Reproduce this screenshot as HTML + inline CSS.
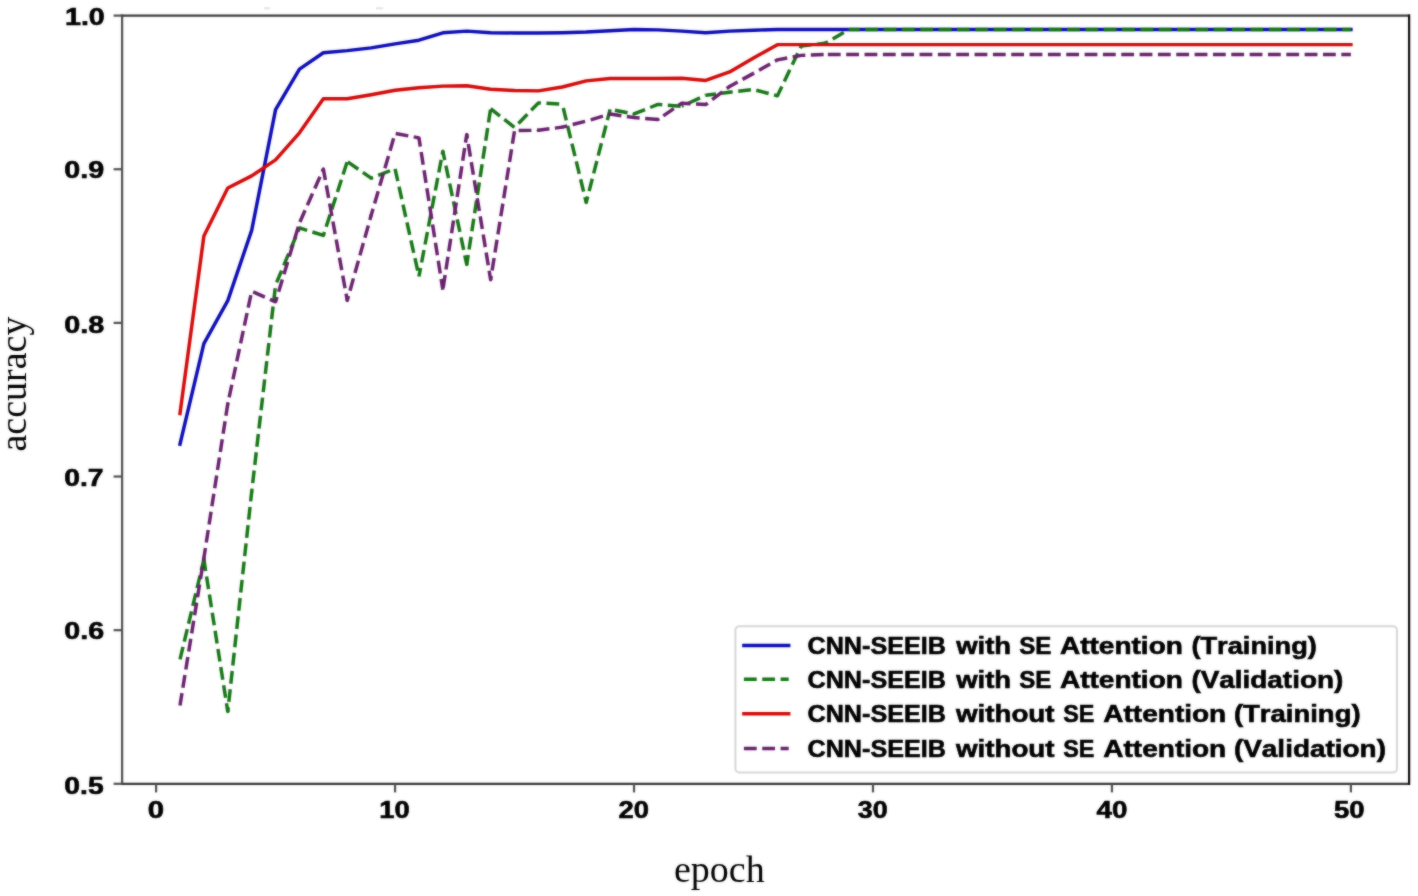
<!DOCTYPE html>
<html><head><meta charset="utf-8"><style>
html,body{margin:0;padding:0;background:#fff;}
body{width:1418px;height:896px;overflow:hidden;position:relative;}
svg{position:absolute;left:0;top:0;}
.tk{font-family:"Liberation Sans",sans-serif;font-weight:bold;font-size:23.5px;fill:#000;font-kerning:none;stroke:#000;stroke-width:0.6px;}
.lg{font-family:"Liberation Sans",sans-serif;font-weight:bold;font-size:23.5px;fill:#000;font-kerning:none;stroke:#000;stroke-width:0.6px;}
.ax{font-family:"Liberation Serif",serif;font-size:38px;fill:#000;}
svg.b{filter:blur(1px);} svg.s{opacity:0.5;}</style></head><body>
<svg class="b" width="1418" height="896" viewBox="0 0 1418 896">
<rect x="0" y="0" width="1418" height="896" fill="#fff"/>
<g>

<defs><clipPath id="pa"><rect x="122.1" y="15.6" width="1286.8000000000002" height="768.3"/></clipPath></defs>
<g clip-path="url(#pa)" fill="none" stroke-linejoin="round">
<polyline points="180.00,444.26 203.89,343.62 227.79,300.60 251.68,230.39 275.58,109.63 299.48,69.07 323.37,52.78 347.27,50.63 371.16,47.86 395.06,43.87 418.96,40.18 442.85,32.81 466.75,31.12 490.64,32.65 514.54,32.96 538.44,32.96 562.33,32.65 586.23,32.04 610.12,30.81 634.02,29.58 657.92,29.89 681.81,31.12 705.71,32.65 729.60,31.12 753.50,30.20 777.40,29.43 801.29,29.43 825.19,29.43 849.08,29.43 872.98,29.43 896.88,29.43 920.77,29.43 944.67,29.43 968.56,29.43 992.46,29.43 1016.36,29.43 1040.25,29.43 1064.15,29.43 1088.04,29.43 1111.94,29.43 1135.84,29.43 1159.73,29.43 1183.63,29.43 1207.52,29.43 1231.42,29.43 1255.32,29.43 1279.21,29.43 1303.11,29.43 1327.00,29.43 1350.90,29.43" stroke="#0c0cb5" stroke-width="3.46" stroke-linecap="square"/>
<polyline points="180.00,659.51 203.89,559.49" stroke="#177517" stroke-width="3.46" stroke-dasharray="12.802 5.536" stroke-dashoffset="18.235" stroke-linecap="butt"/><polyline points="203.89,559.49 227.79,711.59" stroke="#177517" stroke-width="3.46" stroke-dasharray="12.802 5.536" stroke-dashoffset="1.146" stroke-linecap="butt"/><circle cx="203.89" cy="559.49" r="1.73" fill="#177517"/><polyline points="227.79,711.59 251.68,491.88" stroke="#177517" stroke-width="3.46" stroke-dasharray="12.802 5.536" stroke-dashoffset="8.614" stroke-linecap="butt"/><circle cx="227.79" cy="711.59" r="1.73" fill="#177517"/><polyline points="251.68,491.88 275.58,284.93" stroke="#177517" stroke-width="3.46" stroke-dasharray="12.802 5.536" stroke-dashoffset="9.572" stroke-linecap="butt"/><circle cx="251.68" cy="491.88" r="1.73" fill="#177517"/><polyline points="275.58,284.93 299.48,227.93" stroke="#177517" stroke-width="3.46" stroke-dasharray="12.802 5.536" stroke-dashoffset="15.556" stroke-linecap="butt"/><polyline points="299.48,227.93 323.37,235.46" stroke="#177517" stroke-width="3.46" stroke-dasharray="12.802 5.536" stroke-dashoffset="4.794" stroke-linecap="butt"/><circle cx="299.48" cy="227.93" r="1.73" fill="#177517"/><polyline points="323.37,235.46 347.27,161.56" stroke="#177517" stroke-width="3.46" stroke-dasharray="12.802 5.536" stroke-dashoffset="9.250" stroke-linecap="butt"/><circle cx="323.37" cy="235.46" r="1.73" fill="#177517"/><polyline points="347.27,161.56 371.16,178.15" stroke="#177517" stroke-width="3.46" stroke-dasharray="12.802 5.536" stroke-dashoffset="17.702" stroke-linecap="butt"/><polyline points="371.16,178.15 395.06,168.78" stroke="#177517" stroke-width="3.46" stroke-dasharray="12.802 5.536" stroke-dashoffset="10.864" stroke-linecap="butt"/><circle cx="371.16" cy="178.15" r="1.73" fill="#177517"/><polyline points="395.06,168.78 418.96,276.33" stroke="#177517" stroke-width="3.46" stroke-dasharray="12.802 5.536" stroke-dashoffset="0.082" stroke-linecap="butt"/><polyline points="418.96,276.33 442.85,151.26" stroke="#177517" stroke-width="3.46" stroke-dasharray="12.802 5.536" stroke-dashoffset="4.299" stroke-linecap="butt"/><polyline points="442.85,151.26 466.75,264.50" stroke="#177517" stroke-width="3.46" stroke-dasharray="12.802 5.536" stroke-dashoffset="3.709" stroke-linecap="butt"/><circle cx="442.85" cy="151.26" r="1.73" fill="#177517"/><polyline points="466.75,264.50 490.64,108.71" stroke="#177517" stroke-width="3.46" stroke-dasharray="12.802 5.536" stroke-dashoffset="3.080" stroke-linecap="butt"/><circle cx="466.75" cy="264.50" r="1.73" fill="#177517"/><polyline points="490.64,108.71 514.54,127.45" stroke="#177517" stroke-width="3.46" stroke-dasharray="12.802 5.536" stroke-dashoffset="0.948" stroke-linecap="butt"/><polyline points="514.54,127.45 538.44,102.87 562.33,104.10" stroke="#177517" stroke-width="3.46" stroke-dasharray="12.802 5.536" stroke-dashoffset="12.729" stroke-linecap="butt"/><polyline points="562.33,104.10 586.23,202.43" stroke="#177517" stroke-width="3.46" stroke-dasharray="12.802 5.536" stroke-dashoffset="14.333" stroke-linecap="butt"/><polyline points="586.23,202.43 610.12,109.32" stroke="#177517" stroke-width="3.46" stroke-dasharray="12.802 5.536" stroke-dashoffset="6.720" stroke-linecap="butt"/><circle cx="586.23" cy="202.43" r="1.73" fill="#177517"/><polyline points="610.12,109.32 634.02,113.93" stroke="#177517" stroke-width="3.46" stroke-dasharray="12.802 5.536" stroke-dashoffset="13.396" stroke-linecap="butt"/><polyline points="634.02,113.93 657.92,104.40" stroke="#177517" stroke-width="3.46" stroke-dasharray="12.802 5.536" stroke-dashoffset="0.946" stroke-linecap="butt"/><circle cx="634.02" cy="113.93" r="1.73" fill="#177517"/><polyline points="657.92,104.40 681.81,106.25" stroke="#177517" stroke-width="3.46" stroke-dasharray="12.802 5.536" stroke-dashoffset="8.445" stroke-linecap="butt"/><circle cx="657.92" cy="104.40" r="1.73" fill="#177517"/><polyline points="681.81,106.25 705.71,95.19" stroke="#177517" stroke-width="3.46" stroke-dasharray="12.802 5.536" stroke-dashoffset="11.093" stroke-linecap="butt"/><polyline points="705.71,95.19 729.60,92.27" stroke="#177517" stroke-width="3.46" stroke-dasharray="12.802 5.536" stroke-dashoffset="2.485" stroke-linecap="butt"/><polyline points="729.60,92.27 753.50,89.50" stroke="#177517" stroke-width="3.46" stroke-dasharray="12.802 5.536" stroke-dashoffset="9.642" stroke-linecap="butt"/><circle cx="729.60" cy="92.27" r="1.73" fill="#177517"/><polyline points="753.50,89.50 777.40,95.80" stroke="#177517" stroke-width="3.46" stroke-dasharray="12.802 5.536" stroke-dashoffset="15.452" stroke-linecap="butt"/><polyline points="777.40,95.80 801.29,46.02 825.19,43.26" stroke="#177517" stroke-width="3.46" stroke-dasharray="12.802 5.536" stroke-dashoffset="2.368" stroke-linecap="butt"/><circle cx="777.40" cy="95.80" r="1.73" fill="#177517"/><polyline points="825.19,43.26 849.08,29.43" stroke="#177517" stroke-width="3.46" stroke-dasharray="12.802 5.536" stroke-dashoffset="9.668" stroke-linecap="butt"/><circle cx="825.19" cy="43.26" r="1.73" fill="#177517"/><polyline points="849.08,29.43 872.98,29.43 896.88,29.43 920.77,29.43 944.67,29.43 968.56,29.43 992.46,29.43 1016.36,29.43 1040.25,29.43 1064.15,29.43 1088.04,29.43 1111.94,29.43 1135.84,29.43 1159.73,29.43 1183.63,29.43 1207.52,29.43 1231.42,29.43 1255.32,29.43 1279.21,29.43 1303.11,29.43 1327.00,29.43 1350.90,29.43" stroke="#177517" stroke-width="3.46" stroke-dasharray="12.802 5.536" stroke-dashoffset="2.126" stroke-linecap="butt"/>
<polyline points="180.00,413.53 203.89,236.07 227.79,187.98 251.68,175.85 275.58,159.87 299.48,132.83 323.37,98.72 347.27,98.72 371.16,94.72 395.06,90.27 418.96,87.81 442.85,86.12 466.75,85.81 490.64,89.19 514.54,90.58 538.44,90.88 562.33,87.04 586.23,80.90 610.12,78.59 634.02,78.44 657.92,78.44 681.81,78.29 705.71,80.44 729.60,71.99 753.50,58.00 777.40,44.64 801.29,44.64 825.19,44.64 849.08,44.64 872.98,44.64 896.88,44.64 920.77,44.64 944.67,44.64 968.56,44.64 992.46,44.64 1016.36,44.64 1040.25,44.64 1064.15,44.64 1088.04,44.64 1111.94,44.64 1135.84,44.64 1159.73,44.64 1183.63,44.64 1207.52,44.64 1231.42,44.64 1255.32,44.64 1279.21,44.64 1303.11,44.64 1327.00,44.64 1350.90,44.64" stroke="#d20a0a" stroke-width="3.46" stroke-linecap="square"/>
<polyline points="180.00,705.44 203.89,557.95" stroke="#68216c" stroke-width="3.46" stroke-dasharray="12.802 5.536" stroke-dashoffset="0.352" stroke-linecap="butt"/><polyline points="203.89,557.95 227.79,403.69" stroke="#68216c" stroke-width="3.46" stroke-dasharray="12.802 5.536" stroke-dashoffset="2.766" stroke-linecap="butt"/><circle cx="203.89" cy="557.95" r="1.73" fill="#68216c"/><polyline points="227.79,403.69 251.68,291.23 275.58,301.83" stroke="#68216c" stroke-width="3.46" stroke-dasharray="12.802 5.536" stroke-dashoffset="11.777" stroke-linecap="butt"/><circle cx="227.79" cy="403.69" r="1.73" fill="#68216c"/><polyline points="275.58,301.83 299.48,223.01" stroke="#68216c" stroke-width="3.46" stroke-dasharray="12.802 5.536" stroke-dashoffset="7.748" stroke-linecap="butt"/><circle cx="275.58" cy="301.83" r="1.73" fill="#68216c"/><polyline points="299.48,223.01 323.37,169.09" stroke="#68216c" stroke-width="3.46" stroke-dasharray="12.802 5.536" stroke-dashoffset="17.244" stroke-linecap="butt"/><polyline points="323.37,169.09 347.27,300.45" stroke="#68216c" stroke-width="3.46" stroke-dasharray="12.802 5.536" stroke-dashoffset="1.746" stroke-linecap="butt"/><circle cx="323.37" cy="169.09" r="1.73" fill="#68216c"/><polyline points="347.27,300.45 371.16,215.33" stroke="#68216c" stroke-width="3.46" stroke-dasharray="12.802 5.536" stroke-dashoffset="8.226" stroke-linecap="butt"/><circle cx="347.27" cy="300.45" r="1.73" fill="#68216c"/><polyline points="371.16,215.33 395.06,133.44" stroke="#68216c" stroke-width="3.46" stroke-dasharray="12.802 5.536" stroke-dashoffset="5.964" stroke-linecap="butt"/><circle cx="371.16" cy="215.33" r="1.73" fill="#68216c"/><polyline points="395.06,133.44 418.96,137.90" stroke="#68216c" stroke-width="3.46" stroke-dasharray="12.802 5.536" stroke-dashoffset="17.688" stroke-linecap="butt"/><polyline points="418.96,137.90 442.85,289.85" stroke="#68216c" stroke-width="3.46" stroke-dasharray="12.802 5.536" stroke-dashoffset="3.959" stroke-linecap="butt"/><circle cx="418.96" cy="137.90" r="1.73" fill="#68216c"/><polyline points="442.85,289.85 466.75,134.52" stroke="#68216c" stroke-width="3.46" stroke-dasharray="12.802 5.536" stroke-dashoffset="16.086" stroke-linecap="butt"/><polyline points="466.75,134.52 490.64,279.71" stroke="#68216c" stroke-width="3.46" stroke-dasharray="12.802 5.536" stroke-dashoffset="8.722" stroke-linecap="butt"/><circle cx="466.75" cy="134.52" r="1.73" fill="#68216c"/><polyline points="490.64,279.71 514.54,130.68" stroke="#68216c" stroke-width="3.46" stroke-dasharray="12.802 5.536" stroke-dashoffset="9.093" stroke-linecap="butt"/><circle cx="490.64" cy="279.71" r="1.73" fill="#68216c"/><polyline points="514.54,130.68 538.44,130.22" stroke="#68216c" stroke-width="3.46" stroke-dasharray="12.802 5.536" stroke-dashoffset="14.246" stroke-linecap="butt"/><polyline points="538.44,130.22 562.33,127.14" stroke="#68216c" stroke-width="3.46" stroke-dasharray="12.802 5.536" stroke-dashoffset="1.751" stroke-linecap="butt"/><circle cx="538.44" cy="130.22" r="1.73" fill="#68216c"/><polyline points="562.33,127.14 586.23,121.15" stroke="#68216c" stroke-width="3.46" stroke-dasharray="12.802 5.536" stroke-dashoffset="7.663" stroke-linecap="butt"/><circle cx="562.33" cy="127.14" r="1.73" fill="#68216c"/><polyline points="586.23,121.15 610.12,114.08" stroke="#68216c" stroke-width="3.46" stroke-dasharray="12.802 5.536" stroke-dashoffset="13.696" stroke-linecap="butt"/><polyline points="610.12,114.08 634.02,117.62" stroke="#68216c" stroke-width="3.46" stroke-dasharray="12.802 5.536" stroke-dashoffset="1.433" stroke-linecap="butt"/><circle cx="610.12" cy="114.08" r="1.73" fill="#68216c"/><polyline points="634.02,117.62 657.92,119.46" stroke="#68216c" stroke-width="3.46" stroke-dasharray="12.802 5.536" stroke-dashoffset="7.169" stroke-linecap="butt"/><circle cx="634.02" cy="117.62" r="1.73" fill="#68216c"/><polyline points="657.92,119.46 681.81,103.17" stroke="#68216c" stroke-width="3.46" stroke-dasharray="12.802 5.536" stroke-dashoffset="11.869" stroke-linecap="butt"/><circle cx="657.92" cy="119.46" r="1.73" fill="#68216c"/><polyline points="681.81,103.17 705.71,104.56" stroke="#68216c" stroke-width="3.46" stroke-dasharray="12.802 5.536" stroke-dashoffset="4.114" stroke-linecap="butt"/><circle cx="681.81" cy="103.17" r="1.73" fill="#68216c"/><polyline points="705.71,104.56 729.60,86.43" stroke="#68216c" stroke-width="3.46" stroke-dasharray="12.802 5.536" stroke-dashoffset="10.249" stroke-linecap="butt"/><circle cx="705.71" cy="104.56" r="1.73" fill="#68216c"/><polyline points="729.60,86.43 753.50,73.37" stroke="#68216c" stroke-width="3.46" stroke-dasharray="12.802 5.536" stroke-dashoffset="3.627" stroke-linecap="butt"/><circle cx="729.60" cy="86.43" r="1.73" fill="#68216c"/><polyline points="753.50,73.37 777.40,59.85 801.29,55.39 825.19,54.47" stroke="#68216c" stroke-width="3.46" stroke-dasharray="12.802 5.536" stroke-dashoffset="12.029" stroke-linecap="butt"/><polyline points="825.19,54.47 849.08,54.47 872.98,54.47 896.88,54.47 920.77,54.47 944.67,54.47 968.56,54.47 992.46,54.47 1016.36,54.47 1040.25,54.47 1064.15,54.47 1088.04,54.47 1111.94,54.47 1135.84,54.47 1159.73,54.47 1183.63,54.47 1207.52,54.47 1231.42,54.47 1255.32,54.47 1279.21,54.47 1303.11,54.47 1327.00,54.47 1350.90,54.47" stroke="#68216c" stroke-width="3.46" stroke-dasharray="12.802 5.536" stroke-dashoffset="15.676" stroke-linecap="butt"/>
</g>
<rect x="735.4" y="626.2" width="661.6" height="146.19999999999993" rx="4" ry="4" fill="#fff" fill-opacity="0.8" stroke="#d8d8d8" stroke-width="2"/>
<line x1="743.9" y1="645.4" x2="788.7" y2="645.4" stroke="#0c0cb5" stroke-width="3.46" stroke-linecap="square"/>
<text class="lg" x="807.57" y="653.70" textLength="138.27" lengthAdjust="spacingAndGlyphs">CNN-SEEIB</text>
<text class="lg" x="956.18" y="653.70" textLength="54.92" lengthAdjust="spacingAndGlyphs">with</text>
<text class="lg" x="1019.21" y="653.70" textLength="32.13" lengthAdjust="spacingAndGlyphs">SE</text>
<text class="lg" x="1059.90" y="653.70" textLength="123.04" lengthAdjust="spacingAndGlyphs">Attention</text>
<text class="lg" x="1191.45" y="653.70" textLength="125.41" lengthAdjust="spacingAndGlyphs">(Training)</text>
<line x1="743.9" y1="679.2" x2="788.7" y2="679.2" stroke="#177517" stroke-width="3.46" stroke-linecap="butt" stroke-dasharray="12.802 5.536"/>
<text class="lg" x="807.57" y="687.50" textLength="138.27" lengthAdjust="spacingAndGlyphs">CNN-SEEIB</text>
<text class="lg" x="956.18" y="687.50" textLength="54.92" lengthAdjust="spacingAndGlyphs">with</text>
<text class="lg" x="1019.21" y="687.50" textLength="32.13" lengthAdjust="spacingAndGlyphs">SE</text>
<text class="lg" x="1059.90" y="687.50" textLength="123.04" lengthAdjust="spacingAndGlyphs">Attention</text>
<text class="lg" x="1191.41" y="687.50" textLength="151.88" lengthAdjust="spacingAndGlyphs">(Validation)</text>
<line x1="743.9" y1="713.8" x2="788.7" y2="713.8" stroke="#d20a0a" stroke-width="3.46" stroke-linecap="square"/>
<text class="lg" x="807.57" y="722.10" textLength="138.27" lengthAdjust="spacingAndGlyphs">CNN-SEEIB</text>
<text class="lg" x="955.98" y="722.10" textLength="98.56" lengthAdjust="spacingAndGlyphs">without</text>
<text class="lg" x="1063.13" y="722.10" textLength="31.19" lengthAdjust="spacingAndGlyphs">SE</text>
<text class="lg" x="1103.30" y="722.10" textLength="122.94" lengthAdjust="spacingAndGlyphs">Attention</text>
<text class="lg" x="1233.93" y="722.10" textLength="126.64" lengthAdjust="spacingAndGlyphs">(Training)</text>
<line x1="743.9" y1="748.4" x2="788.7" y2="748.4" stroke="#68216c" stroke-width="3.46" stroke-linecap="butt" stroke-dasharray="12.802 5.536"/>
<text class="lg" x="807.57" y="756.70" textLength="138.27" lengthAdjust="spacingAndGlyphs">CNN-SEEIB</text>
<text class="lg" x="955.98" y="756.70" textLength="98.56" lengthAdjust="spacingAndGlyphs">without</text>
<text class="lg" x="1063.13" y="756.70" textLength="31.19" lengthAdjust="spacingAndGlyphs">SE</text>
<text class="lg" x="1103.30" y="756.70" textLength="122.94" lengthAdjust="spacingAndGlyphs">Attention</text>
<text class="lg" x="1233.91" y="756.70" textLength="152.08" lengthAdjust="spacingAndGlyphs">(Validation)</text>
<g stroke-width="2.2" fill="none">
<line x1="122.1" y1="14.5" x2="122.1" y2="785.0" stroke="#505050"/>
<line x1="121.0" y1="783.9" x2="1410.0" y2="783.9" stroke="#363636"/>
<line x1="121.0" y1="15.6" x2="1410.0" y2="15.6" stroke="#3a3a3a"/>
</g>
<line x1="1409.1000000000001" y1="14.5" x2="1409.1000000000001" y2="785.0" stroke="#080808" stroke-width="2.2"/>
<g stroke="#505050" stroke-width="2.2">
<line x1="156.10" y1="783.9" x2="156.10" y2="792.4"/>
<line x1="395.06" y1="783.9" x2="395.06" y2="792.4"/>
<line x1="634.02" y1="783.9" x2="634.02" y2="792.4"/>
<line x1="872.98" y1="783.9" x2="872.98" y2="792.4"/>
<line x1="1111.94" y1="783.9" x2="1111.94" y2="792.4"/>
<line x1="1350.90" y1="783.9" x2="1350.90" y2="792.4"/>
<line x1="113.6" y1="783.80" x2="122.1" y2="783.80"/>
<line x1="113.6" y1="630.16" x2="122.1" y2="630.16"/>
<line x1="113.6" y1="476.52" x2="122.1" y2="476.52"/>
<line x1="113.6" y1="322.88" x2="122.1" y2="322.88"/>
<line x1="113.6" y1="169.24" x2="122.1" y2="169.24"/>
<line x1="113.6" y1="15.60" x2="122.1" y2="15.60"/>
</g>
<text class="tk" x="147.74" y="818.00" textLength="16.37" lengthAdjust="spacingAndGlyphs">0</text>
<text class="tk" x="379.18" y="818.00" textLength="30.45" lengthAdjust="spacingAndGlyphs">10</text>
<text class="tk" x="618.55" y="818.00" textLength="30.47" lengthAdjust="spacingAndGlyphs">20</text>
<text class="tk" x="857.78" y="818.00" textLength="29.92" lengthAdjust="spacingAndGlyphs">30</text>
<text class="tk" x="1096.58" y="818.00" textLength="30.86" lengthAdjust="spacingAndGlyphs">40</text>
<text class="tk" x="1333.95" y="818.00" textLength="30.57" lengthAdjust="spacingAndGlyphs">50</text>
<text class="tk" x="65.00" y="24.60" textLength="39.78" lengthAdjust="spacingAndGlyphs">1.0</text>
<text class="tk" x="64.26" y="177.50" textLength="39.90" lengthAdjust="spacingAndGlyphs">0.9</text>
<text class="tk" x="64.26" y="332.60" textLength="40.02" lengthAdjust="spacingAndGlyphs">0.8</text>
<text class="tk" x="64.28" y="485.70" textLength="39.36" lengthAdjust="spacingAndGlyphs">0.7</text>
<text class="tk" x="64.27" y="638.80" textLength="39.87" lengthAdjust="spacingAndGlyphs">0.6</text>
<text class="tk" x="64.28" y="793.50" textLength="39.41" lengthAdjust="spacingAndGlyphs">0.5</text>
<text class="ax" x="719.3" y="882" text-anchor="middle">epoch</text>
<text class="ax" transform="translate(25.5,384) rotate(-90)" text-anchor="middle">accuracy</text>
<rect x="264" y="7.3" width="6" height="2" fill="#e4e4e4"/><rect x="376" y="7.3" width="7" height="2" fill="#e4e4e4"/>
</g></svg><svg class="s" width="1418" height="896" viewBox="0 0 1418 896">
<rect x="0" y="0" width="1418" height="896" fill="#fff"/>
<g>

<defs><clipPath id="pa2"><rect x="122.1" y="15.6" width="1286.8000000000002" height="768.3"/></clipPath></defs>
<g clip-path="url(#pa2)" fill="none" stroke-linejoin="round">
<polyline points="180.00,444.26 203.89,343.62 227.79,300.60 251.68,230.39 275.58,109.63 299.48,69.07 323.37,52.78 347.27,50.63 371.16,47.86 395.06,43.87 418.96,40.18 442.85,32.81 466.75,31.12 490.64,32.65 514.54,32.96 538.44,32.96 562.33,32.65 586.23,32.04 610.12,30.81 634.02,29.58 657.92,29.89 681.81,31.12 705.71,32.65 729.60,31.12 753.50,30.20 777.40,29.43 801.29,29.43 825.19,29.43 849.08,29.43 872.98,29.43 896.88,29.43 920.77,29.43 944.67,29.43 968.56,29.43 992.46,29.43 1016.36,29.43 1040.25,29.43 1064.15,29.43 1088.04,29.43 1111.94,29.43 1135.84,29.43 1159.73,29.43 1183.63,29.43 1207.52,29.43 1231.42,29.43 1255.32,29.43 1279.21,29.43 1303.11,29.43 1327.00,29.43 1350.90,29.43" stroke="#0c0cb5" stroke-width="3.46" stroke-linecap="square"/>
<polyline points="180.00,659.51 203.89,559.49" stroke="#177517" stroke-width="3.46" stroke-dasharray="12.802 5.536" stroke-dashoffset="18.235" stroke-linecap="butt"/><polyline points="203.89,559.49 227.79,711.59" stroke="#177517" stroke-width="3.46" stroke-dasharray="12.802 5.536" stroke-dashoffset="1.146" stroke-linecap="butt"/><circle cx="203.89" cy="559.49" r="1.73" fill="#177517"/><polyline points="227.79,711.59 251.68,491.88" stroke="#177517" stroke-width="3.46" stroke-dasharray="12.802 5.536" stroke-dashoffset="8.614" stroke-linecap="butt"/><circle cx="227.79" cy="711.59" r="1.73" fill="#177517"/><polyline points="251.68,491.88 275.58,284.93" stroke="#177517" stroke-width="3.46" stroke-dasharray="12.802 5.536" stroke-dashoffset="9.572" stroke-linecap="butt"/><circle cx="251.68" cy="491.88" r="1.73" fill="#177517"/><polyline points="275.58,284.93 299.48,227.93" stroke="#177517" stroke-width="3.46" stroke-dasharray="12.802 5.536" stroke-dashoffset="15.556" stroke-linecap="butt"/><polyline points="299.48,227.93 323.37,235.46" stroke="#177517" stroke-width="3.46" stroke-dasharray="12.802 5.536" stroke-dashoffset="4.794" stroke-linecap="butt"/><circle cx="299.48" cy="227.93" r="1.73" fill="#177517"/><polyline points="323.37,235.46 347.27,161.56" stroke="#177517" stroke-width="3.46" stroke-dasharray="12.802 5.536" stroke-dashoffset="9.250" stroke-linecap="butt"/><circle cx="323.37" cy="235.46" r="1.73" fill="#177517"/><polyline points="347.27,161.56 371.16,178.15" stroke="#177517" stroke-width="3.46" stroke-dasharray="12.802 5.536" stroke-dashoffset="17.702" stroke-linecap="butt"/><polyline points="371.16,178.15 395.06,168.78" stroke="#177517" stroke-width="3.46" stroke-dasharray="12.802 5.536" stroke-dashoffset="10.864" stroke-linecap="butt"/><circle cx="371.16" cy="178.15" r="1.73" fill="#177517"/><polyline points="395.06,168.78 418.96,276.33" stroke="#177517" stroke-width="3.46" stroke-dasharray="12.802 5.536" stroke-dashoffset="0.082" stroke-linecap="butt"/><polyline points="418.96,276.33 442.85,151.26" stroke="#177517" stroke-width="3.46" stroke-dasharray="12.802 5.536" stroke-dashoffset="4.299" stroke-linecap="butt"/><polyline points="442.85,151.26 466.75,264.50" stroke="#177517" stroke-width="3.46" stroke-dasharray="12.802 5.536" stroke-dashoffset="3.709" stroke-linecap="butt"/><circle cx="442.85" cy="151.26" r="1.73" fill="#177517"/><polyline points="466.75,264.50 490.64,108.71" stroke="#177517" stroke-width="3.46" stroke-dasharray="12.802 5.536" stroke-dashoffset="3.080" stroke-linecap="butt"/><circle cx="466.75" cy="264.50" r="1.73" fill="#177517"/><polyline points="490.64,108.71 514.54,127.45" stroke="#177517" stroke-width="3.46" stroke-dasharray="12.802 5.536" stroke-dashoffset="0.948" stroke-linecap="butt"/><polyline points="514.54,127.45 538.44,102.87 562.33,104.10" stroke="#177517" stroke-width="3.46" stroke-dasharray="12.802 5.536" stroke-dashoffset="12.729" stroke-linecap="butt"/><polyline points="562.33,104.10 586.23,202.43" stroke="#177517" stroke-width="3.46" stroke-dasharray="12.802 5.536" stroke-dashoffset="14.333" stroke-linecap="butt"/><polyline points="586.23,202.43 610.12,109.32" stroke="#177517" stroke-width="3.46" stroke-dasharray="12.802 5.536" stroke-dashoffset="6.720" stroke-linecap="butt"/><circle cx="586.23" cy="202.43" r="1.73" fill="#177517"/><polyline points="610.12,109.32 634.02,113.93" stroke="#177517" stroke-width="3.46" stroke-dasharray="12.802 5.536" stroke-dashoffset="13.396" stroke-linecap="butt"/><polyline points="634.02,113.93 657.92,104.40" stroke="#177517" stroke-width="3.46" stroke-dasharray="12.802 5.536" stroke-dashoffset="0.946" stroke-linecap="butt"/><circle cx="634.02" cy="113.93" r="1.73" fill="#177517"/><polyline points="657.92,104.40 681.81,106.25" stroke="#177517" stroke-width="3.46" stroke-dasharray="12.802 5.536" stroke-dashoffset="8.445" stroke-linecap="butt"/><circle cx="657.92" cy="104.40" r="1.73" fill="#177517"/><polyline points="681.81,106.25 705.71,95.19" stroke="#177517" stroke-width="3.46" stroke-dasharray="12.802 5.536" stroke-dashoffset="11.093" stroke-linecap="butt"/><polyline points="705.71,95.19 729.60,92.27" stroke="#177517" stroke-width="3.46" stroke-dasharray="12.802 5.536" stroke-dashoffset="2.485" stroke-linecap="butt"/><polyline points="729.60,92.27 753.50,89.50" stroke="#177517" stroke-width="3.46" stroke-dasharray="12.802 5.536" stroke-dashoffset="9.642" stroke-linecap="butt"/><circle cx="729.60" cy="92.27" r="1.73" fill="#177517"/><polyline points="753.50,89.50 777.40,95.80" stroke="#177517" stroke-width="3.46" stroke-dasharray="12.802 5.536" stroke-dashoffset="15.452" stroke-linecap="butt"/><polyline points="777.40,95.80 801.29,46.02 825.19,43.26" stroke="#177517" stroke-width="3.46" stroke-dasharray="12.802 5.536" stroke-dashoffset="2.368" stroke-linecap="butt"/><circle cx="777.40" cy="95.80" r="1.73" fill="#177517"/><polyline points="825.19,43.26 849.08,29.43" stroke="#177517" stroke-width="3.46" stroke-dasharray="12.802 5.536" stroke-dashoffset="9.668" stroke-linecap="butt"/><circle cx="825.19" cy="43.26" r="1.73" fill="#177517"/><polyline points="849.08,29.43 872.98,29.43 896.88,29.43 920.77,29.43 944.67,29.43 968.56,29.43 992.46,29.43 1016.36,29.43 1040.25,29.43 1064.15,29.43 1088.04,29.43 1111.94,29.43 1135.84,29.43 1159.73,29.43 1183.63,29.43 1207.52,29.43 1231.42,29.43 1255.32,29.43 1279.21,29.43 1303.11,29.43 1327.00,29.43 1350.90,29.43" stroke="#177517" stroke-width="3.46" stroke-dasharray="12.802 5.536" stroke-dashoffset="2.126" stroke-linecap="butt"/>
<polyline points="180.00,413.53 203.89,236.07 227.79,187.98 251.68,175.85 275.58,159.87 299.48,132.83 323.37,98.72 347.27,98.72 371.16,94.72 395.06,90.27 418.96,87.81 442.85,86.12 466.75,85.81 490.64,89.19 514.54,90.58 538.44,90.88 562.33,87.04 586.23,80.90 610.12,78.59 634.02,78.44 657.92,78.44 681.81,78.29 705.71,80.44 729.60,71.99 753.50,58.00 777.40,44.64 801.29,44.64 825.19,44.64 849.08,44.64 872.98,44.64 896.88,44.64 920.77,44.64 944.67,44.64 968.56,44.64 992.46,44.64 1016.36,44.64 1040.25,44.64 1064.15,44.64 1088.04,44.64 1111.94,44.64 1135.84,44.64 1159.73,44.64 1183.63,44.64 1207.52,44.64 1231.42,44.64 1255.32,44.64 1279.21,44.64 1303.11,44.64 1327.00,44.64 1350.90,44.64" stroke="#d20a0a" stroke-width="3.46" stroke-linecap="square"/>
<polyline points="180.00,705.44 203.89,557.95" stroke="#68216c" stroke-width="3.46" stroke-dasharray="12.802 5.536" stroke-dashoffset="0.352" stroke-linecap="butt"/><polyline points="203.89,557.95 227.79,403.69" stroke="#68216c" stroke-width="3.46" stroke-dasharray="12.802 5.536" stroke-dashoffset="2.766" stroke-linecap="butt"/><circle cx="203.89" cy="557.95" r="1.73" fill="#68216c"/><polyline points="227.79,403.69 251.68,291.23 275.58,301.83" stroke="#68216c" stroke-width="3.46" stroke-dasharray="12.802 5.536" stroke-dashoffset="11.777" stroke-linecap="butt"/><circle cx="227.79" cy="403.69" r="1.73" fill="#68216c"/><polyline points="275.58,301.83 299.48,223.01" stroke="#68216c" stroke-width="3.46" stroke-dasharray="12.802 5.536" stroke-dashoffset="7.748" stroke-linecap="butt"/><circle cx="275.58" cy="301.83" r="1.73" fill="#68216c"/><polyline points="299.48,223.01 323.37,169.09" stroke="#68216c" stroke-width="3.46" stroke-dasharray="12.802 5.536" stroke-dashoffset="17.244" stroke-linecap="butt"/><polyline points="323.37,169.09 347.27,300.45" stroke="#68216c" stroke-width="3.46" stroke-dasharray="12.802 5.536" stroke-dashoffset="1.746" stroke-linecap="butt"/><circle cx="323.37" cy="169.09" r="1.73" fill="#68216c"/><polyline points="347.27,300.45 371.16,215.33" stroke="#68216c" stroke-width="3.46" stroke-dasharray="12.802 5.536" stroke-dashoffset="8.226" stroke-linecap="butt"/><circle cx="347.27" cy="300.45" r="1.73" fill="#68216c"/><polyline points="371.16,215.33 395.06,133.44" stroke="#68216c" stroke-width="3.46" stroke-dasharray="12.802 5.536" stroke-dashoffset="5.964" stroke-linecap="butt"/><circle cx="371.16" cy="215.33" r="1.73" fill="#68216c"/><polyline points="395.06,133.44 418.96,137.90" stroke="#68216c" stroke-width="3.46" stroke-dasharray="12.802 5.536" stroke-dashoffset="17.688" stroke-linecap="butt"/><polyline points="418.96,137.90 442.85,289.85" stroke="#68216c" stroke-width="3.46" stroke-dasharray="12.802 5.536" stroke-dashoffset="3.959" stroke-linecap="butt"/><circle cx="418.96" cy="137.90" r="1.73" fill="#68216c"/><polyline points="442.85,289.85 466.75,134.52" stroke="#68216c" stroke-width="3.46" stroke-dasharray="12.802 5.536" stroke-dashoffset="16.086" stroke-linecap="butt"/><polyline points="466.75,134.52 490.64,279.71" stroke="#68216c" stroke-width="3.46" stroke-dasharray="12.802 5.536" stroke-dashoffset="8.722" stroke-linecap="butt"/><circle cx="466.75" cy="134.52" r="1.73" fill="#68216c"/><polyline points="490.64,279.71 514.54,130.68" stroke="#68216c" stroke-width="3.46" stroke-dasharray="12.802 5.536" stroke-dashoffset="9.093" stroke-linecap="butt"/><circle cx="490.64" cy="279.71" r="1.73" fill="#68216c"/><polyline points="514.54,130.68 538.44,130.22" stroke="#68216c" stroke-width="3.46" stroke-dasharray="12.802 5.536" stroke-dashoffset="14.246" stroke-linecap="butt"/><polyline points="538.44,130.22 562.33,127.14" stroke="#68216c" stroke-width="3.46" stroke-dasharray="12.802 5.536" stroke-dashoffset="1.751" stroke-linecap="butt"/><circle cx="538.44" cy="130.22" r="1.73" fill="#68216c"/><polyline points="562.33,127.14 586.23,121.15" stroke="#68216c" stroke-width="3.46" stroke-dasharray="12.802 5.536" stroke-dashoffset="7.663" stroke-linecap="butt"/><circle cx="562.33" cy="127.14" r="1.73" fill="#68216c"/><polyline points="586.23,121.15 610.12,114.08" stroke="#68216c" stroke-width="3.46" stroke-dasharray="12.802 5.536" stroke-dashoffset="13.696" stroke-linecap="butt"/><polyline points="610.12,114.08 634.02,117.62" stroke="#68216c" stroke-width="3.46" stroke-dasharray="12.802 5.536" stroke-dashoffset="1.433" stroke-linecap="butt"/><circle cx="610.12" cy="114.08" r="1.73" fill="#68216c"/><polyline points="634.02,117.62 657.92,119.46" stroke="#68216c" stroke-width="3.46" stroke-dasharray="12.802 5.536" stroke-dashoffset="7.169" stroke-linecap="butt"/><circle cx="634.02" cy="117.62" r="1.73" fill="#68216c"/><polyline points="657.92,119.46 681.81,103.17" stroke="#68216c" stroke-width="3.46" stroke-dasharray="12.802 5.536" stroke-dashoffset="11.869" stroke-linecap="butt"/><circle cx="657.92" cy="119.46" r="1.73" fill="#68216c"/><polyline points="681.81,103.17 705.71,104.56" stroke="#68216c" stroke-width="3.46" stroke-dasharray="12.802 5.536" stroke-dashoffset="4.114" stroke-linecap="butt"/><circle cx="681.81" cy="103.17" r="1.73" fill="#68216c"/><polyline points="705.71,104.56 729.60,86.43" stroke="#68216c" stroke-width="3.46" stroke-dasharray="12.802 5.536" stroke-dashoffset="10.249" stroke-linecap="butt"/><circle cx="705.71" cy="104.56" r="1.73" fill="#68216c"/><polyline points="729.60,86.43 753.50,73.37" stroke="#68216c" stroke-width="3.46" stroke-dasharray="12.802 5.536" stroke-dashoffset="3.627" stroke-linecap="butt"/><circle cx="729.60" cy="86.43" r="1.73" fill="#68216c"/><polyline points="753.50,73.37 777.40,59.85 801.29,55.39 825.19,54.47" stroke="#68216c" stroke-width="3.46" stroke-dasharray="12.802 5.536" stroke-dashoffset="12.029" stroke-linecap="butt"/><polyline points="825.19,54.47 849.08,54.47 872.98,54.47 896.88,54.47 920.77,54.47 944.67,54.47 968.56,54.47 992.46,54.47 1016.36,54.47 1040.25,54.47 1064.15,54.47 1088.04,54.47 1111.94,54.47 1135.84,54.47 1159.73,54.47 1183.63,54.47 1207.52,54.47 1231.42,54.47 1255.32,54.47 1279.21,54.47 1303.11,54.47 1327.00,54.47 1350.90,54.47" stroke="#68216c" stroke-width="3.46" stroke-dasharray="12.802 5.536" stroke-dashoffset="15.676" stroke-linecap="butt"/>
</g>
<rect x="735.4" y="626.2" width="661.6" height="146.19999999999993" rx="4" ry="4" fill="#fff" fill-opacity="0.8" stroke="#d8d8d8" stroke-width="2"/>
<line x1="743.9" y1="645.4" x2="788.7" y2="645.4" stroke="#0c0cb5" stroke-width="3.46" stroke-linecap="square"/>
<text class="lg" x="807.57" y="653.70" textLength="138.27" lengthAdjust="spacingAndGlyphs">CNN-SEEIB</text>
<text class="lg" x="956.18" y="653.70" textLength="54.92" lengthAdjust="spacingAndGlyphs">with</text>
<text class="lg" x="1019.21" y="653.70" textLength="32.13" lengthAdjust="spacingAndGlyphs">SE</text>
<text class="lg" x="1059.90" y="653.70" textLength="123.04" lengthAdjust="spacingAndGlyphs">Attention</text>
<text class="lg" x="1191.45" y="653.70" textLength="125.41" lengthAdjust="spacingAndGlyphs">(Training)</text>
<line x1="743.9" y1="679.2" x2="788.7" y2="679.2" stroke="#177517" stroke-width="3.46" stroke-linecap="butt" stroke-dasharray="12.802 5.536"/>
<text class="lg" x="807.57" y="687.50" textLength="138.27" lengthAdjust="spacingAndGlyphs">CNN-SEEIB</text>
<text class="lg" x="956.18" y="687.50" textLength="54.92" lengthAdjust="spacingAndGlyphs">with</text>
<text class="lg" x="1019.21" y="687.50" textLength="32.13" lengthAdjust="spacingAndGlyphs">SE</text>
<text class="lg" x="1059.90" y="687.50" textLength="123.04" lengthAdjust="spacingAndGlyphs">Attention</text>
<text class="lg" x="1191.41" y="687.50" textLength="151.88" lengthAdjust="spacingAndGlyphs">(Validation)</text>
<line x1="743.9" y1="713.8" x2="788.7" y2="713.8" stroke="#d20a0a" stroke-width="3.46" stroke-linecap="square"/>
<text class="lg" x="807.57" y="722.10" textLength="138.27" lengthAdjust="spacingAndGlyphs">CNN-SEEIB</text>
<text class="lg" x="955.98" y="722.10" textLength="98.56" lengthAdjust="spacingAndGlyphs">without</text>
<text class="lg" x="1063.13" y="722.10" textLength="31.19" lengthAdjust="spacingAndGlyphs">SE</text>
<text class="lg" x="1103.30" y="722.10" textLength="122.94" lengthAdjust="spacingAndGlyphs">Attention</text>
<text class="lg" x="1233.93" y="722.10" textLength="126.64" lengthAdjust="spacingAndGlyphs">(Training)</text>
<line x1="743.9" y1="748.4" x2="788.7" y2="748.4" stroke="#68216c" stroke-width="3.46" stroke-linecap="butt" stroke-dasharray="12.802 5.536"/>
<text class="lg" x="807.57" y="756.70" textLength="138.27" lengthAdjust="spacingAndGlyphs">CNN-SEEIB</text>
<text class="lg" x="955.98" y="756.70" textLength="98.56" lengthAdjust="spacingAndGlyphs">without</text>
<text class="lg" x="1063.13" y="756.70" textLength="31.19" lengthAdjust="spacingAndGlyphs">SE</text>
<text class="lg" x="1103.30" y="756.70" textLength="122.94" lengthAdjust="spacingAndGlyphs">Attention</text>
<text class="lg" x="1233.91" y="756.70" textLength="152.08" lengthAdjust="spacingAndGlyphs">(Validation)</text>
<g stroke-width="2.2" fill="none">
<line x1="122.1" y1="14.5" x2="122.1" y2="785.0" stroke="#505050"/>
<line x1="121.0" y1="783.9" x2="1410.0" y2="783.9" stroke="#363636"/>
<line x1="121.0" y1="15.6" x2="1410.0" y2="15.6" stroke="#3a3a3a"/>
</g>
<line x1="1409.1000000000001" y1="14.5" x2="1409.1000000000001" y2="785.0" stroke="#080808" stroke-width="2.2"/>
<g stroke="#505050" stroke-width="2.2">
<line x1="156.10" y1="783.9" x2="156.10" y2="792.4"/>
<line x1="395.06" y1="783.9" x2="395.06" y2="792.4"/>
<line x1="634.02" y1="783.9" x2="634.02" y2="792.4"/>
<line x1="872.98" y1="783.9" x2="872.98" y2="792.4"/>
<line x1="1111.94" y1="783.9" x2="1111.94" y2="792.4"/>
<line x1="1350.90" y1="783.9" x2="1350.90" y2="792.4"/>
<line x1="113.6" y1="783.80" x2="122.1" y2="783.80"/>
<line x1="113.6" y1="630.16" x2="122.1" y2="630.16"/>
<line x1="113.6" y1="476.52" x2="122.1" y2="476.52"/>
<line x1="113.6" y1="322.88" x2="122.1" y2="322.88"/>
<line x1="113.6" y1="169.24" x2="122.1" y2="169.24"/>
<line x1="113.6" y1="15.60" x2="122.1" y2="15.60"/>
</g>
<text class="tk" x="147.74" y="818.00" textLength="16.37" lengthAdjust="spacingAndGlyphs">0</text>
<text class="tk" x="379.18" y="818.00" textLength="30.45" lengthAdjust="spacingAndGlyphs">10</text>
<text class="tk" x="618.55" y="818.00" textLength="30.47" lengthAdjust="spacingAndGlyphs">20</text>
<text class="tk" x="857.78" y="818.00" textLength="29.92" lengthAdjust="spacingAndGlyphs">30</text>
<text class="tk" x="1096.58" y="818.00" textLength="30.86" lengthAdjust="spacingAndGlyphs">40</text>
<text class="tk" x="1333.95" y="818.00" textLength="30.57" lengthAdjust="spacingAndGlyphs">50</text>
<text class="tk" x="65.00" y="24.60" textLength="39.78" lengthAdjust="spacingAndGlyphs">1.0</text>
<text class="tk" x="64.26" y="177.50" textLength="39.90" lengthAdjust="spacingAndGlyphs">0.9</text>
<text class="tk" x="64.26" y="332.60" textLength="40.02" lengthAdjust="spacingAndGlyphs">0.8</text>
<text class="tk" x="64.28" y="485.70" textLength="39.36" lengthAdjust="spacingAndGlyphs">0.7</text>
<text class="tk" x="64.27" y="638.80" textLength="39.87" lengthAdjust="spacingAndGlyphs">0.6</text>
<text class="tk" x="64.28" y="793.50" textLength="39.41" lengthAdjust="spacingAndGlyphs">0.5</text>
<text class="ax" x="719.3" y="882" text-anchor="middle">epoch</text>
<text class="ax" transform="translate(25.5,384) rotate(-90)" text-anchor="middle">accuracy</text>
<rect x="264" y="7.3" width="6" height="2" fill="#e4e4e4"/><rect x="376" y="7.3" width="7" height="2" fill="#e4e4e4"/>
</g></svg></body></html>
